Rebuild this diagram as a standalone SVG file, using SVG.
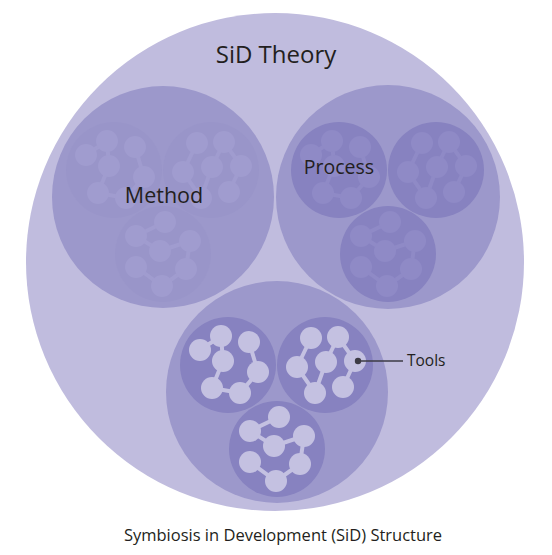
<svg xmlns="http://www.w3.org/2000/svg" xmlns:xlink="http://www.w3.org/1999/xlink" width="552" height="555" viewBox="0 0 552 555">
<style>
.outer{fill:#c0bcde}
.l2{fill:#9c98cb}
.l3{fill:#8782c0}
.l3m{fill:#9995c9}
.molT{fill:#c4c1e1;stroke:#c4c1e1}
.molP{fill:#8f8ac6;stroke:#8f8ac6}
.molM{fill:#a09ccf;stroke:#a09ccf}
.lbl{font-family:"Open Sans","Noto Sans",sans-serif;fill:#231f20}
</style>
<defs>
<g id="molA" stroke-width="4">
<polyline fill="none" points="-28,-15 -7,-29 -5,-4 -16,23 12,28 30,7 21,-23"/>
<circle cx="-28" cy="-15" r="11" stroke="none"/>
<circle cx="-7" cy="-29" r="11" stroke="none"/>
<circle cx="21" cy="-23" r="11" stroke="none"/>
<circle cx="-5" cy="-4" r="11" stroke="none"/>
<circle cx="30" cy="7" r="11" stroke="none"/>
<circle cx="-16" cy="23" r="11" stroke="none"/>
<circle cx="12" cy="28" r="11" stroke="none"/>
</g>
<g id="molB" stroke-width="4">
<polyline fill="none" points="-14,-27 -28,2 -10,28 1,-3 13,-28 30,-4 18,22"/>
<circle cx="-14" cy="-27" r="11" stroke="none"/>
<circle cx="13" cy="-28" r="11" stroke="none"/>
<circle cx="-28" cy="2" r="11" stroke="none"/>
<circle cx="1" cy="-3" r="11" stroke="none"/>
<circle cx="30" cy="-4" r="11" stroke="none"/>
<circle cx="-10" cy="28" r="11" stroke="none"/>
<circle cx="18" cy="22" r="11" stroke="none"/>
</g>
<g id="molC" stroke-width="4">
<polyline fill="none" points="2,-32 -27,-18 -3,-3 27,-13 23,15 -1,32 -27,13"/>
<circle cx="2" cy="-32" r="11" stroke="none"/>
<circle cx="-27" cy="-18" r="11" stroke="none"/>
<circle cx="27" cy="-13" r="11" stroke="none"/>
<circle cx="-3" cy="-3" r="11" stroke="none"/>
<circle cx="-27" cy="13" r="11" stroke="none"/>
<circle cx="23" cy="15" r="11" stroke="none"/>
<circle cx="-1" cy="32" r="11" stroke="none"/>
</g>
</defs>
<g id="theory">
<circle class="outer" cx="275" cy="262" r="249"/>
<text class="lbl" x="276" y="63" font-size="24" text-anchor="middle">SiD Theory</text>
</g>
<g id="method">
<circle class="l2" cx="163" cy="197" r="111"/>
<circle class="l3m" cx="114" cy="170" r="48"/>
<circle class="l3m" cx="211" cy="170" r="48"/>
<circle class="l3m" cx="163" cy="254" r="48"/>
<use xlink:href="#molA" class="molM" transform="translate(114,170)"/>
<use xlink:href="#molB" class="molM" transform="translate(211,170)"/>
<use xlink:href="#molC" class="molM" transform="translate(163,254)"/>
<text class="lbl" x="164" y="203" font-size="21.5" text-anchor="middle">Method</text>
</g>
<g id="process">
<circle class="l2" cx="388" cy="197" r="112"/>
<circle class="l3" cx="339" cy="170" r="48"/>
<circle class="l3" cx="436" cy="170" r="48"/>
<circle class="l3" cx="388" cy="254" r="48"/>
<use xlink:href="#molA" class="molP" transform="translate(339,170)"/>
<use xlink:href="#molB" class="molP" transform="translate(436,170)"/>
<use xlink:href="#molC" class="molP" transform="translate(388,254)"/>
<text class="lbl" x="339" y="174" font-size="19.5" text-anchor="middle">Process</text>
</g>
<g id="tools-group">
<circle class="l2" cx="277" cy="392" r="111"/>
<circle class="l3" cx="228" cy="365" r="48"/>
<circle class="l3" cx="325" cy="365" r="48"/>
<circle class="l3" cx="277" cy="449" r="48"/>
<use xlink:href="#molA" class="molT" transform="translate(228,365)"/>
<use xlink:href="#molB" class="molT" transform="translate(325,365)"/>
<use xlink:href="#molC" class="molT" transform="translate(277,449)"/>
</g>
<g id="connectors">
<line x1="358" y1="361" x2="403" y2="361" stroke="#3d3b45" stroke-width="1.5"/>
<circle cx="358" cy="361" r="3.2" fill="#3d3b45"/>
</g>
<g id="tools-label">
<text class="lbl" x="407" y="366" font-size="15.5">Tools</text>
</g>
<g id="caption">
<text class="lbl" x="283" y="541" font-size="16.5" text-anchor="middle" fill="#333">Symbiosis in Development (SiD) Structure</text>
</g>
</svg>
